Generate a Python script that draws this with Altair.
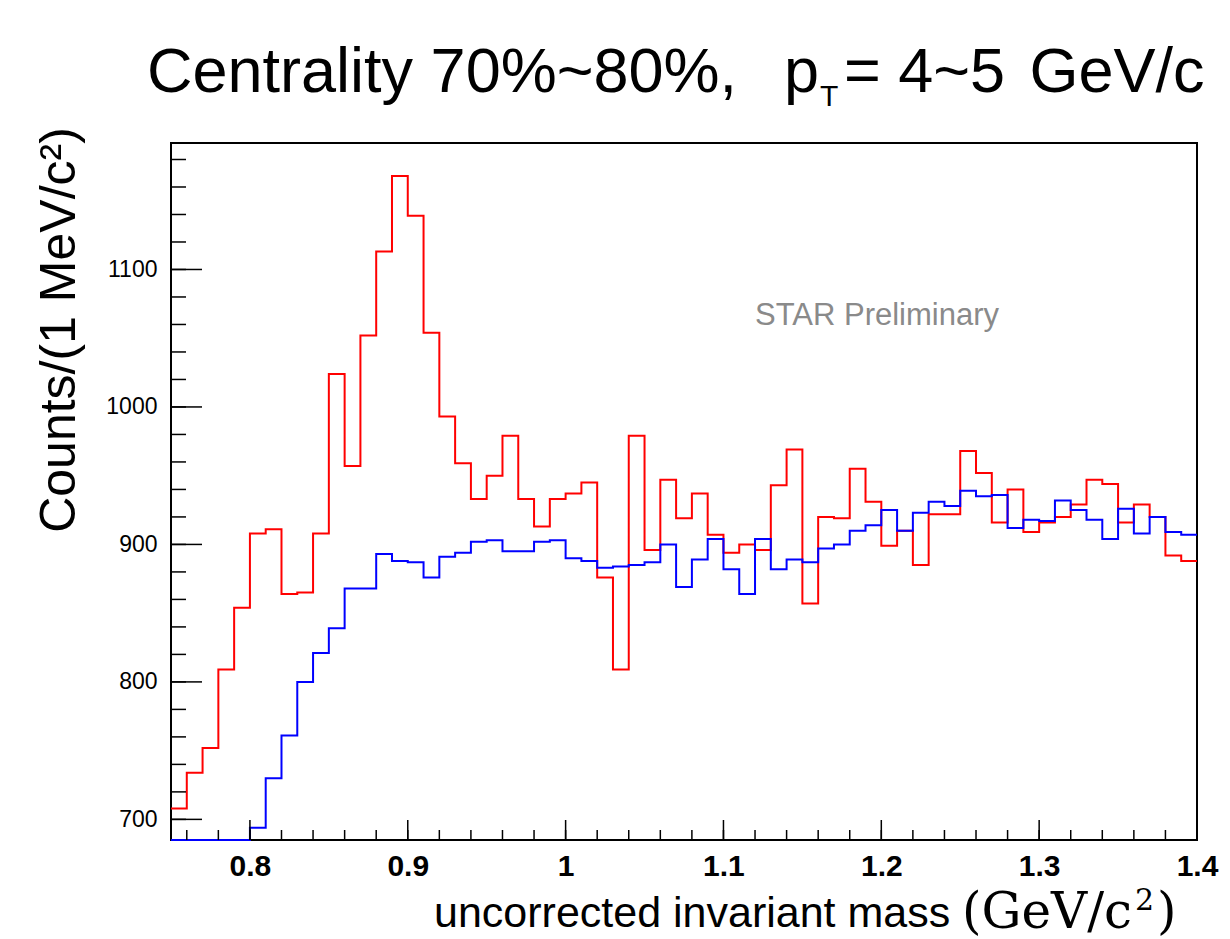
import altair as alt
import numpy as np
import pandas as pd

# ---- histogram data: 10 MeV/c^2 bins starting at 0.75 GeV/c^2 ----
BIN_START = 0.75
BIN_WIDTH = 0.01

# same-event pair spectrum (red)
same_event_counts = [
    708, 734, 752, 809, 854,
    908, 911, 864, 865, 908, 1024, 957, 1052, 1113, 1168,
    1139, 1054, 993, 959, 933, 950, 979, 933, 913, 933,
    937, 945, 876, 809, 979, 896, 947, 919, 937, 907,
    894, 900, 896, 943, 969, 857, 920, 919, 955, 931,
    899, 910, 885, 922, 922, 968, 952, 916, 940, 909,
    916, 920, 929, 947, 944, 916, 929, 920, 892, 888,
]

# mixed-event background (blue); the first bins lie on the frame floor
mixed_event_counts = [
    685, 685, 685, 685, 685,
    694, 730, 761, 800, 821, 839, 868, 868, 893, 888,
    887, 876, 891, 894, 902, 903, 895, 895, 902, 903,
    890, 888, 883, 884, 885, 887, 900, 869, 889, 904,
    882, 864, 904, 882, 889, 887, 897, 900, 910, 914,
    925, 910, 923, 931, 928, 939, 935, 936, 912, 918,
    917, 932, 925, 918, 904, 926, 908, 920, 909, 907,
]

# axis ticks
x_major = [0.8, 0.9, 1.0, 1.1, 1.2, 1.3, 1.4]
x_minor = [round(v, 2) for v in np.arange(0.76, 1.4001, 0.02)]
y_major = [700, 800, 900, 1000, 1100]
y_minor = list(range(700, 1181, 20))

X_RANGE = [0.75, 1.40]
Y_RANGE = [685, 1192]

W, H = 1026, 697
SANS = "Liberation Sans"
SERIF = "DejaVu Serif"


def step_frame(counts):
    edges = [round(BIN_START + i * BIN_WIDTH, 2) for i in range(len(counts) + 1)]
    return pd.DataFrame({"mass": edges, "counts": list(counts) + [counts[-1]]})


xs = alt.Scale(domain=X_RANGE, nice=False, zero=False)
ys = alt.Scale(domain=Y_RANGE, nice=False, zero=False)

x_axis = alt.Axis(
    values=x_major, format="~g", title=None, domain=False, ticks=False, tickSize=0,
    grid=False, labelFont=SANS, labelFontSize=30, labelFontWeight="bold",
    labelPadding=11, labelFlush=False, labelOverlap=False, labelColor="black",
)
y_axis = alt.Axis(
    values=y_major, format="d", title=None, domain=False, ticks=False, tickSize=0,
    grid=False, labelFont=SANS, labelFontSize=23, labelPadding=14,
    labelColor="black", labelOverlap=False,
)


def hist_line(counts, color):
    return alt.Chart(step_frame(counts)).mark_line(
        interpolate="step-after", color=color, strokeWidth=2
    ).encode(
        x=alt.X("mass:Q", scale=xs, axis=x_axis),
        y=alt.Y("counts:Q", scale=ys, axis=y_axis),
    )


# inward-pointing ROOT style ticks
def x_ticks(values, length):
    return alt.Chart(pd.DataFrame({"v": values})).mark_rule(
        color="black", strokeWidth=1.5
    ).encode(
        x=alt.X("v:Q", scale=xs, axis=x_axis),
        y=alt.value(H),
        y2=alt.value(H - length),
    )


def y_ticks(values, length):
    return alt.Chart(pd.DataFrame({"v": values})).mark_rule(
        color="black", strokeWidth=1.5
    ).encode(
        y=alt.Y("v:Q", scale=ys, axis=y_axis),
        x=alt.value(0),
        x2=alt.value(length),
    )


ONE = pd.DataFrame({"k": [0]})


def label(txt, x, y, size, font=SANS, align="left", angle=0, weight="normal",
          color="black", baseline="alphabetic"):
    return alt.Chart(ONE).mark_text(
        align=align, baseline=baseline, font=font, fontSize=size,
        fontWeight=weight, color=color, angle=angle,
    ).encode(x=alt.value(x), y=alt.value(y), text=alt.value(txt))


texts = [
    # title: Centrality 70%~80%,  p_T = 4~5 GeV/c
    label("Centrality 70%~80%,", -24, -51, 63),
    label("p", 613, -51, 63),
    label("T", 649, -37, 30),
    label("= 4~5", 673, -51, 63),
    label("GeV/c", 946, -51, 63, align="center"),
    # y title
    label("Counts/(1 MeV/c²)", -96, 187, 50, align="center", angle=270),
    # x title
    label("uncorrected invariant mass", 263, 784, 43),
    label("(GeV/c", 791, 785, 50, font=SERIF),
    label("2", 964, 767, 30, font=SERIF),
    label(")", 986, 785, 50, font=SERIF),
    # watermark
    label("STAR Preliminary", 584, 182, 31, color="#8a8a8a"),
]

chart = alt.layer(
    hist_line(same_event_counts, "#ff0000"),
    hist_line(mixed_event_counts, "#0000ff"),
    x_ticks(x_minor, 10),
    x_ticks(x_major, 20),
    y_ticks(y_minor, 15),
    y_ticks(y_major, 31),
    *texts,
).properties(
    width=W,
    height=H,
    autosize=alt.AutoSizeParams(type="none"),
    padding={"left": 171, "top": 143, "right": 33, "bottom": 99},
    background="white",
).configure_view(
    stroke="black", strokeWidth=2
)

chart.save("out.html", embed_options={"renderer": "svg", "actions": False})
